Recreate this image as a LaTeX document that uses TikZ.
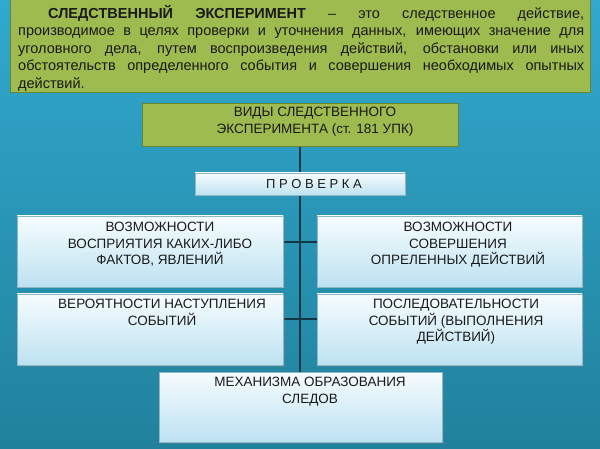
\documentclass[tikz,border=0pt]{standalone}
\usepackage{fontspec}
\setmainfont{Liberation Sans}
\usetikzlibrary{shadows}
\definecolor{bgtop}{HTML}{31A9CF}
\definecolor{bgbot}{HTML}{21819C}
\definecolor{grn}{HTML}{9DBB4E}
\definecolor{grnd}{HTML}{66852E}
\definecolor{ink}{HTML}{1A1A1A}
\definecolor{boxtop}{HTML}{F6FCFE}
\definecolor{boxbot}{HTML}{BDE2F1}
\definecolor{boxline}{HTML}{8DB6C6}
\definecolor{connc}{HTML}{123848}
\pgfdeclarelayer{bg}
\pgfdeclarelayer{lines}
\pgfsetlayers{bg,lines,main}
\begin{document}
\begin{tikzpicture}[x=1pt,y=-1pt,
  greenbox/.style={draw=grnd, line width=1pt, fill=grn, inner sep=0pt, outer sep=0pt},
  lightbox/.style={draw=boxline, line width=0.6pt, top color=boxtop, bottom color=boxbot, inner sep=0pt, outer sep=0pt,
     drop shadow={shadow xshift=1.5pt, shadow yshift=-1.5pt, opacity=0.3}},
  boxtext/.style={text=ink, font=\fontsize{13.5}{16.5}\selectfont, align=center, inner sep=0pt, anchor=north},
  connline/.style={draw=connc, line width=1.8pt}]
\begin{pgfonlayer}{bg}
\shade[top color=bgtop, bottom color=bgbot] (0,0) rectangle (600,449);
\end{pgfonlayer}
\useasboundingbox (0,0) rectangle (600,449);

% definition box
\node[greenbox, minimum width=580pt, minimum height=93pt] (def) at (300,46.5) {};
\node[text width=566pt, align=justify, font=\fontsize{14.5}{17.5}\selectfont, text=ink, inner sep=0pt, anchor=north west] (deftext) at (18,5)
{\hspace*{30pt}\textbf{СЛЕДСТВЕННЫЙ ЭКСПЕРИМЕНТ} – это следственное действие,\linebreak
производимое в целях проверки и уточнения данных, имеющих значение для\linebreak
уголовного дела, путем воспроизведения действий, обстановки или иных\linebreak
обстоятельств определенного события и совершения необходимых опытных\linebreak
действий.};

% kinds box
\node[greenbox, minimum width=316pt, minimum height=43pt] (vidy) at (300,125.5) {};
\node[boxtext] (vidytext) at (315,107) {ВИДЫ СЛЕДСТВЕННОГО\\ЭКСПЕРИМЕНТА (ст. 181 УПК)};

% check box
\node[lightbox, minimum width=210pt, minimum height=22pt] (prov) at (300,184) {};
\node[text=ink, font=\fontsize{13}{15}\selectfont, inner sep=0pt] (provtext) at (314,184) {П Р О В Е Р К А};

% row 1
\node[lightbox, minimum width=266pt, minimum height=71pt] (l1) at (150,251.5) {};
\node[lightbox, minimum width=265pt, minimum height=71pt] (r1) at (449.5,251.5) {};
\node[boxtext] (l1text) at (160,222) {ВОЗМОЖНОСТИ\\ВОСПРИЯТИЯ КАКИХ-ЛИБО\\ФАКТОВ, ЯВЛЕНИЙ};
\node[boxtext] (r1text) at (458,222) {ВОЗМОЖНОСТИ\\СОВЕРШЕНИЯ\\ОПРЕЛЕННЫХ ДЕЙСТВИЙ};

% row 2
\node[lightbox, minimum width=266pt, minimum height=71pt] (l2) at (150,329.5) {};
\node[lightbox, minimum width=265pt, minimum height=71pt] (r2) at (449.5,329.5) {};
\node[boxtext] (l2text) at (162,299) {ВЕРОЯТНОСТИ НАСТУПЛЕНИЯ\\СОБЫТИЙ};
\node[boxtext] (r2text) at (456,299) {ПОСЛЕДОВАТЕЛЬНОСТИ\\СОБЫТИЙ (ВЫПОЛНЕНИЯ\\ДЕЙСТВИЙ)};

% bottom box
\node[lightbox, minimum width=283pt, minimum height=70pt] (mech) at (300.5,407) {};
\node[boxtext] (mechtext) at (310,377) {МЕХАНИЗМА ОБРАЗОВАНИЯ\\СЛЕДОВ};

\begin{pgfonlayer}{lines}
\draw[connline] (vidy.south) -- (prov.north);
\draw[connline] (prov.south) -- (mech.north -| prov.south);
\draw[connline] ([yshift=9.5pt]l1.east) -- ([yshift=9.5pt]r1.west);
\draw[connline] ([yshift=10.5pt]l2.east) -- ([yshift=10.5pt]r2.west);
\end{pgfonlayer}
\end{tikzpicture}
\end{document}
